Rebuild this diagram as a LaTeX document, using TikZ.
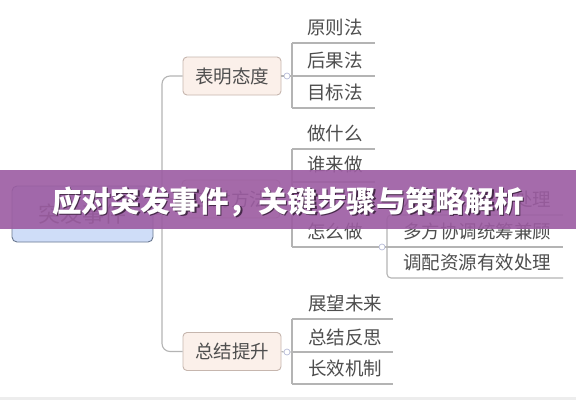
\documentclass[tikz,border=0pt]{standalone}
\usepackage{fontspec}
\setmainfont{Noto Sans CJK SC}
\definecolor{txt}{HTML}{4E4E4E}
\definecolor{ln}{HTML}{B4B4B4}
\definecolor{brfill}{HTML}{FBF0EA}
\definecolor{brd}{HTML}{C6B6AE}
\definecolor{rootfill}{HTML}{CFDDF8}
\definecolor{rootbrd}{HTML}{6A7890}
\definecolor{knobc}{HTML}{B8BCD8}
\definecolor{bannerc}{HTML}{9C5CA2}
\tikzset{
  root/.style={draw=rootbrd, fill=rootfill, rounded corners=5pt, line width=0.9pt,
    minimum width=141pt, minimum height=56pt, text=txt, font=\fontsize{22}{22}\selectfont},
  branch/.style={draw=brd, fill=brfill, rounded corners=4pt, line width=0.9pt,
    minimum width=98pt, minimum height=38pt, text=txt, font=\fontsize{18.5}{18.5}\selectfont},
  leaf/.style={inner sep=0pt, text=txt, font=\fontsize{18.5}{18.5}\selectfont},
  conn/.style={draw=ln, line width=1.1pt},
  knob/.style={circle, draw=knobc, fill=white, line width=0.7pt, minimum size=6pt, inner sep=0pt},
  banner/.style={fill=bannerc, fill opacity=0.9, minimum width=576pt, minimum height=59pt, inner sep=0pt},
}
\begin{document}
\begin{tikzpicture}[x=1pt,y=-1pt]
\useasboundingbox (0,0) rectangle (576,400);
\fill[white] (0,0) rectangle (576,400);
\fill[black!7] (0,397) rectangle (576,400);

% root and branches
\node[root] (root) at (82.5,214) {突发事件};
\node[branch] (b1) at (232,76) {表明态度};
\node[branch] (b2) at (231,199) {应对方法};
\node[branch] (b3) at (232,351.5) {总结提升};

% trunk
\coordinate (t1) at (162,76);
\coordinate (t3) at (162,351.5);
\coordinate (t0) at (162,214);
\draw[conn, rounded corners=8pt] (b1.west) -- (t1) -- (t3) -- (b3.west);
\draw[conn] (root.east) -- (t0);
\draw[conn] (b2.west) -- (b2.west -| t0);

% knobs
\node[knob] (k1) at (287,76) {};
\node[knob] (k2) at (287,199) {};
\node[knob] (k3) at (287,352) {};
\node[knob] (k4) at (382,247) {};

% branch 1 leaves
\node[leaf] (l11) at (335,27) {原则法};
\node[leaf] (l12) at (335,60) {后果法};
\node[leaf] (l13) at (335,92) {目标法};
\coordinate (a11) at (292,43); \coordinate (e11) at (375,43);
\coordinate (a12) at (292,76); \coordinate (e12) at (375,76);
\coordinate (a13) at (292,108); \coordinate (e13) at (375,108);
\draw[conn] (a11) -- (e11) (a12) -- (e12) (a13) -- (e13) (a11) -- (a13);
\draw[conn] (b1.east) -- (k1.west) (k1.east) -- (a12);

% branch 2 leaves
\node[leaf] (l21) at (335,133) {做什么};
\node[leaf] (l22) at (335,164) {谁来做};
\node[leaf] (l23) at (335,231) {怎么做};
\coordinate (a21) at (292,149); \coordinate (e21) at (375,149);
\coordinate (a22) at (292,182); \coordinate (e22) at (375,182);
\coordinate (a23) at (292,247);
\coordinate (a2m) at (292,199);
\draw[conn] (a21) -- (e21) (a22) -- (e22) (a21) -- (a23) (a23) -- (k4.west);
\draw[conn] (b2.east) -- (k2.west) (k2.east) -- (a2m);

% sub leaves of 怎么做
\node[leaf] (s1) at (477,199) {及时响应快速处理};
\node[leaf] (s2) at (477,231) {多方协调统筹兼顾};
\node[leaf] (s3) at (477,262) {调配资源有效处理};
\coordinate (c1) at (387,215); \coordinate (d1) at (563,215);
\coordinate (c2) at (387,247); \coordinate (d2) at (563,247);
\coordinate (c3) at (387,278); \coordinate (d3) at (563,278);
\draw[conn, rounded corners=4pt] (d1) -- (c1) -- (c3) -- (d3);
\draw[conn] (k4.east) -- (d2);

% branch 3 leaves
\node[leaf] (l31) at (345,303) {展望未来};
\node[leaf] (l32) at (345,337) {总结反思};
\node[leaf] (l33) at (345,368) {长效机制};
\coordinate (a31) at (292,319); \coordinate (e31) at (393,319);
\coordinate (a32) at (292,352); \coordinate (e32) at (393,352);
\coordinate (a33) at (292,384); \coordinate (e33) at (393,384);
\draw[conn] (a31) -- (e31) (a32) -- (e32) (a33) -- (e33) (a31) -- (a33);
\draw[conn] (b3.east) -- (k3.west) (k3.east) -- (a32);

% banner
\node[banner] (ban) at (288,199.5) {};
\node[text=black!55!bannerc, font=\fontsize{29.5}{29.5}\selectfont\bfseries] (bantxs) at (289.2,203.2) {应对突发事件，关键步骤与策略解析};
\node[text=white, font=\fontsize{29.5}{29.5}\selectfont\bfseries] (bantx) at (288,202) {应对突发事件，关键步骤与策略解析};
\end{tikzpicture}
\end{document}
